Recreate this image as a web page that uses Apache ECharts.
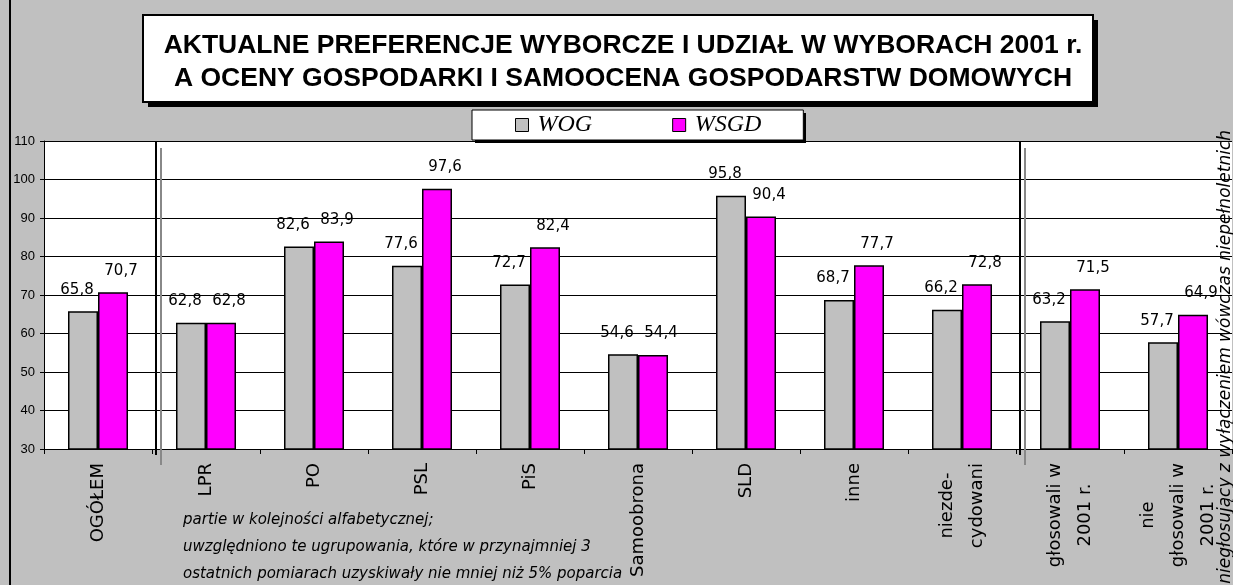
<!DOCTYPE html>
<html>
<head>
<meta charset="utf-8">
<script src="https://cdn.jsdelivr.net/npm/echarts@6/dist/echarts.min.js"></script>
<style>
html,body{margin:0;padding:0;background:#C0C0C0;}
#chart{width:1233px;height:585px;}
</style>
</head>
<body>
<div id="chart"></div>
<script>
const categories = ['OGÓŁEM', 'LPR', 'PO', 'PSL', 'PiS', 'Samoobrona', 'SLD', 'inne', 'niezde-\ncydowani', 'głosowali w\n2001 r.', 'nie\ngłosowali w\n2001 r.'];
const seriesNames = ['WOG', 'WSGD'];
const wog = [65.8, 62.8, 82.6, 77.6, 72.7, 54.6, 95.8, 68.7, 66.2, 63.2, 57.7];
const wsgd = [70.7, 62.8, 83.9, 97.6, 82.4, 54.4, 90.4, 77.7, 72.8, 71.5, 64.9];
const yMin = 30, yMax = 110, yStep = 10;
const separatorsAfter = [0, 8];
const titleLines = ['AKTUALNE PREFERENCJE WYBORCZE I UDZIAŁ W WYBORACH 2001 r.', 'A OCENY GOSPODARKI I SAMOOCENA GOSPODARSTW DOMOWYCH'];
const footnoteLines = ['partie w kolejności alfabetycznej;', 'uwzględniono te ugrupowania, które w przynajmniej 3', 'ostatnich pomiarach uzyskiwały nie mniej niż 5% poparcia'];
const sideNote = 'niegłosujący z wyłączeniem wówczas niepełnoletnich';

const chart = echarts.init(document.getElementById('chart'), null, {renderer: 'canvas'});
const fmt = p => String(p.value).replace('.', ',');
const labelFont = {fontFamily: 'DejaVu Sans', fontSize: 15, color: '#000'};

chart.setOption({
  backgroundColor: '#C0C0C0',
  animation: false,
  title: {
    text: titleLines.join('\n'),
    left: 618, top: 24, textAlign: 'center',
    textStyle: {fontFamily: 'Liberation Sans', fontWeight: 'bold', fontSize: 26.5, lineHeight: 33, color: '#000'},
    z: 10
  },
  legend: {
    data: seriesNames,
    left: 472, top: 110,
    padding: [3, 42, 3, 43],
    itemGap: 80,
    itemWidth: 13, itemHeight: 13,
    icon: 'rect',
    backgroundColor: '#fff',
    borderColor: '#000', borderWidth: 1,
    textStyle: {fontFamily: 'Liberation Serif', fontStyle: 'italic', fontSize: 24, lineHeight: 24, color: '#000', padding: [0, 0, 0, 4]},
    itemStyle: {borderColor: '#000', borderWidth: 1},
    z: 10
  },
  grid: {left: 44, right: 1, top: 141, bottom: 136, show: true, backgroundColor: '#fff', borderWidth: 0},
  xAxis: {
    type: 'category',
    data: categories,
    axisLine: {lineStyle: {color: '#000', width: 1}},
    axisTick: {show: true, length: 5, lineStyle: {color: '#000'}},
    axisLabel: {
      interval: 0, rotate: 90, margin: 14, color: '#000',
      fontFamily: 'DejaVu Sans', fontSize: 18, lineHeight: 30,
      formatter: v => v.split('\n').map(s => '{c|' + s + '}').join('\n'),
      rich: {c: {fontFamily: 'DejaVu Sans', fontSize: 18, lineHeight: 30, color: '#000', align: 'center'}}
    }
  },
  yAxis: {
    type: 'value', min: yMin, max: yMax, interval: yStep,
    axisLine: {show: true, lineStyle: {color: '#000', width: 1}},
    axisTick: {show: true, length: 4, lineStyle: {color: '#000'}},
    axisLabel: {margin: 9, fontFamily: 'Liberation Sans', fontSize: 13, color: '#000'},
    splitLine: {show: true, lineStyle: {color: '#000', width: 1}}
  },
  series: [
    {
      name: seriesNames[0], type: 'bar', data: wog, barWidth: 30, barGap: '0%',
      itemStyle: {color: '#C0C0C0', borderColor: '#000', borderWidth: 1.5},
      label: Object.assign({show: true, position: 'top', distance: 14, offset: [-6, 0], formatter: fmt}, labelFont)
    },
    {
      name: seriesNames[1], type: 'bar', data: wsgd, barWidth: 30, barGap: '0%',
      itemStyle: {color: '#FF00FF', borderColor: '#000', borderWidth: 1.5},
      label: Object.assign({show: true, position: 'top', distance: 14, offset: [8, 0], formatter: fmt}, labelFont)
    }
  ]
});

// decorations computed from the axes
const px = i => chart.convertToPixel({xAxisIndex: 0}, i);
const yTop = chart.convertToPixel({yAxisIndex: 0}, yMax);
const yBot = chart.convertToPixel({yAxisIndex: 0}, yMin);
const elements = [];
elements.push({type: 'line', z: 1, shape: {x1: 10, y1: 0, x2: 10, y2: 585}, style: {stroke: '#000', lineWidth: 2}});
// title box with solid drop shadow
elements.push({type: 'rect', z: 4, shape: {x: 148, y: 20, width: 950, height: 87}, style: {fill: '#000'}});
elements.push({type: 'rect', z: 5, shape: {x: 143, y: 15, width: 950, height: 87}, style: {fill: '#fff', stroke: '#000', lineWidth: 2}});
// legend shadow
elements.push({type: 'rect', z: 2, shape: {x: 475, y: 113, width: 331, height: 30}, style: {fill: '#000'}});
separatorsAfter.forEach(i => {
  const b = (px(i) + px(i + 1)) / 2;
  elements.push({type: 'line', z: 3, shape: {x1: b + 4, y1: yTop, x2: b + 4, y2: yBot + 6}, style: {stroke: '#000', lineWidth: 2}});
  elements.push({type: 'line', z: 3, shape: {x1: b + 9, y1: yTop + 7, x2: b + 9, y2: yBot + 16}, style: {stroke: '#888', lineWidth: 2}});
});
footnoteLines.forEach((t, k) => {
  elements.push({type: 'text', z: 0, x: 183, y: 520 + k * 27,
    style: {text: t, fill: '#000', font: 'italic 15px "DejaVu Sans"', textVerticalAlign: 'middle', textAlign: 'left'}});
});
elements.push({type: 'text', z: 4, x: 1226, y: 130, rotation: Math.PI / 2,
  style: {text: sideNote, fill: '#000', font: 'italic 17px "DejaVu Sans"', textVerticalAlign: 'middle', textAlign: 'right'}});
chart.setOption({graphic: {elements: elements}});
</script>
</body>
</html>
